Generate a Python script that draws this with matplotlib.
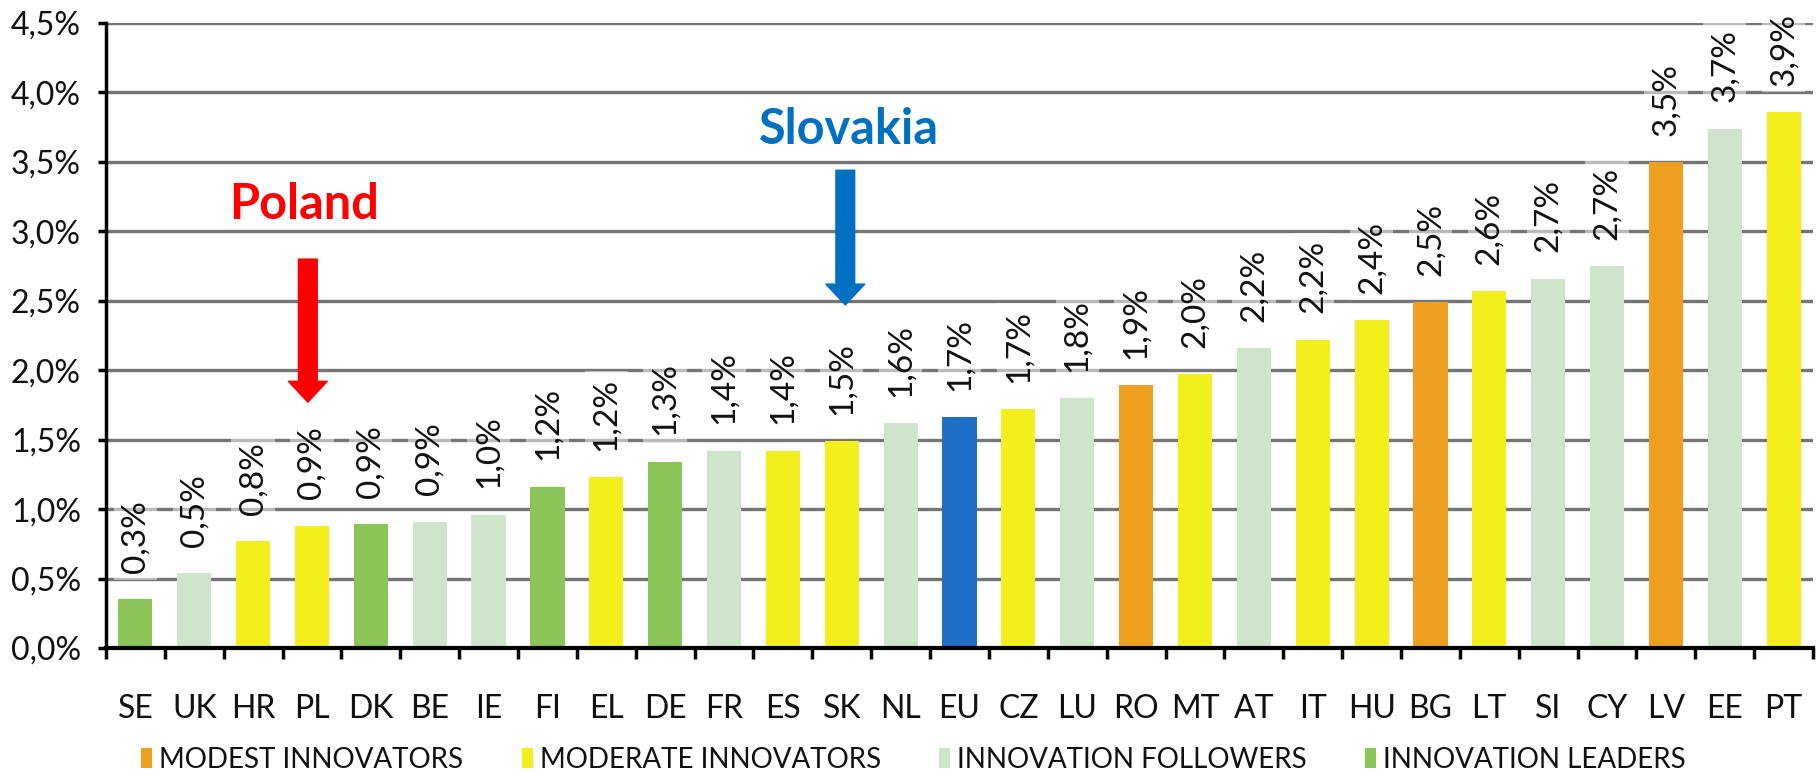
import matplotlib
matplotlib.use("Agg")
import matplotlib.pyplot as plt
from matplotlib.patches import Patch

# ---- data ----
countries = ["SE", "UK", "HR", "PL", "DK", "BE", "IE", "FI", "EL", "DE", "FR", "ES", "SK", "NL",
             "EU", "CZ", "LU", "RO", "MT", "AT", "IT", "HU", "BG", "LT", "SI", "CY", "LV", "EE", "PT"]
values = [0.35, 0.54, 0.77, 0.88, 0.89, 0.91, 0.96, 1.16, 1.23, 1.34, 1.42, 1.42, 1.49, 1.62,
          1.66, 1.72, 1.80, 1.89, 1.97, 2.16, 2.22, 2.36, 2.49, 2.57, 2.66, 2.75, 3.50, 3.74, 3.86]
value_labels = ["0,3%", "0,5%", "0,8%", "0,9%", "0,9%", "0,9%", "1,0%", "1,2%", "1,2%", "1,3%",
                "1,4%", "1,4%", "1,5%", "1,6%", "1,7%", "1,7%", "1,8%", "1,9%", "2,0%", "2,2%",
                "2,2%", "2,4%", "2,5%", "2,6%", "2,7%", "2,7%", "3,5%", "3,7%", "3,9%"]
groups = ["L", "F", "M", "M", "L", "F", "F", "L", "M", "L", "F", "M", "M", "F",
          "EU", "M", "F", "O", "M", "F", "M", "M", "O", "M", "F", "F", "O", "F", "M"]
group_names = {"O": "MODEST INNOVATORS", "M": "MODERATE INNOVATORS",
               "F": "INNOVATION FOLLOWERS", "L": "INNOVATION LEADERS"}
yticks = [0.0, 0.5, 1.0, 1.5, 2.0, 2.5, 3.0, 3.5, 4.0, 4.5]
ytick_labels = ["0,0%", "0,5%", "1,0%", "1,5%", "2,0%", "2,5%", "3,0%", "3,5%", "4,0%", "4,5%"]

# ---- style ----
colors = {"O": "#F0A020", "M": "#F2EF1C", "F": "#CFE5CB", "L": "#8CC65A", "EU": "#1E6FC6"}
plt.rcParams["font.family"] = ["Lato", "DejaVu Sans"]
txt_col = "#111111"

fig = plt.figure(figsize=(18.2, 7.75), dpi=100)
ax = fig.add_axes([0.0582, 0.1639, 0.9380, 0.8064])

x = list(range(len(countries)))
ax.bar(x, values, width=0.58, color=[colors[g] for g in groups], zorder=2)

ax.set_xlim(-0.5, len(countries) - 0.5)
ax.set_ylim(0, 4.5)

# gridlines
ax.set_yticks(yticks)
ax.set_yticklabels(ytick_labels, fontsize=23, color=txt_col)
for yv in yticks[1:]:
    ax.axhline(yv, color="#757575", lw=2.4, zorder=1)

# x ticks: labels at centers, tick marks at boundaries
ax.set_xticks(x)
ax.set_xticklabels(countries, fontsize=23, color=txt_col)
ax.set_xticks([i - 0.5 for i in range(len(countries) + 1)], minor=True)
ax.tick_params(axis="x", which="major", length=0, pad=33)
ax.tick_params(axis="x", which="minor", length=8, width=2.5, color="black", direction="out")
ax.tick_params(axis="y", length=6, width=2.5, pad=12, direction="out")

for s in ["top", "right"]:
    ax.spines[s].set_visible(False)
ax.spines["left"].set_linewidth(2.5)
ax.spines["bottom"].set_linewidth(3)
ax.spines["bottom"].set_zorder(4)

# value labels
for xi, v, lab in zip(x, values, value_labels):
    ax.annotate(lab, xy=(xi, v), xytext=(0, 19), textcoords="offset points",
                rotation=90, ha="center", va="bottom", fontsize=24, color=txt_col,
                bbox=dict(boxstyle="square,pad=0.2", fc="white", ec="none", alpha=0.5),
                zorder=3)

# annotations
ax.text(2.87, 3.19, "Poland", color="#FF0000", fontsize=35, fontweight="bold",
        ha="center", va="center")
ax.annotate("", xy=(2.93, 1.77), xytext=(2.93, 2.80),
            arrowprops=dict(arrowstyle="simple,tail_width=1.35,head_width=2.8,head_length=1.5",
                            mutation_scale=10, color="#FF0000", shrinkA=0, shrinkB=0))
ax.text(12.13, 3.73, "Slovakia", color="#0070C0", fontsize=35, fontweight="bold",
        ha="center", va="center")
ax.annotate("", xy=(12.06, 2.47), xytext=(12.06, 3.44),
            arrowprops=dict(arrowstyle="simple,tail_width=1.35,head_width=2.8,head_length=1.5",
                            mutation_scale=10, color="#0070C0", shrinkA=0, shrinkB=0))

# legend
handles = [Patch(facecolor=colors[k], edgecolor="none", label=group_names[k]) for k in ["O", "M", "F", "L"]]
fig.legend(handles=handles, loc="center", bbox_to_anchor=(0.502, 0.02), ncol=4, frameon=False,
           fontsize=20, handlelength=0.4, handleheight=0.75, handletextpad=0.25,
           columnspacing=2.1, labelcolor=txt_col)

fig.savefig("out.png", dpi=100, facecolor="white")
